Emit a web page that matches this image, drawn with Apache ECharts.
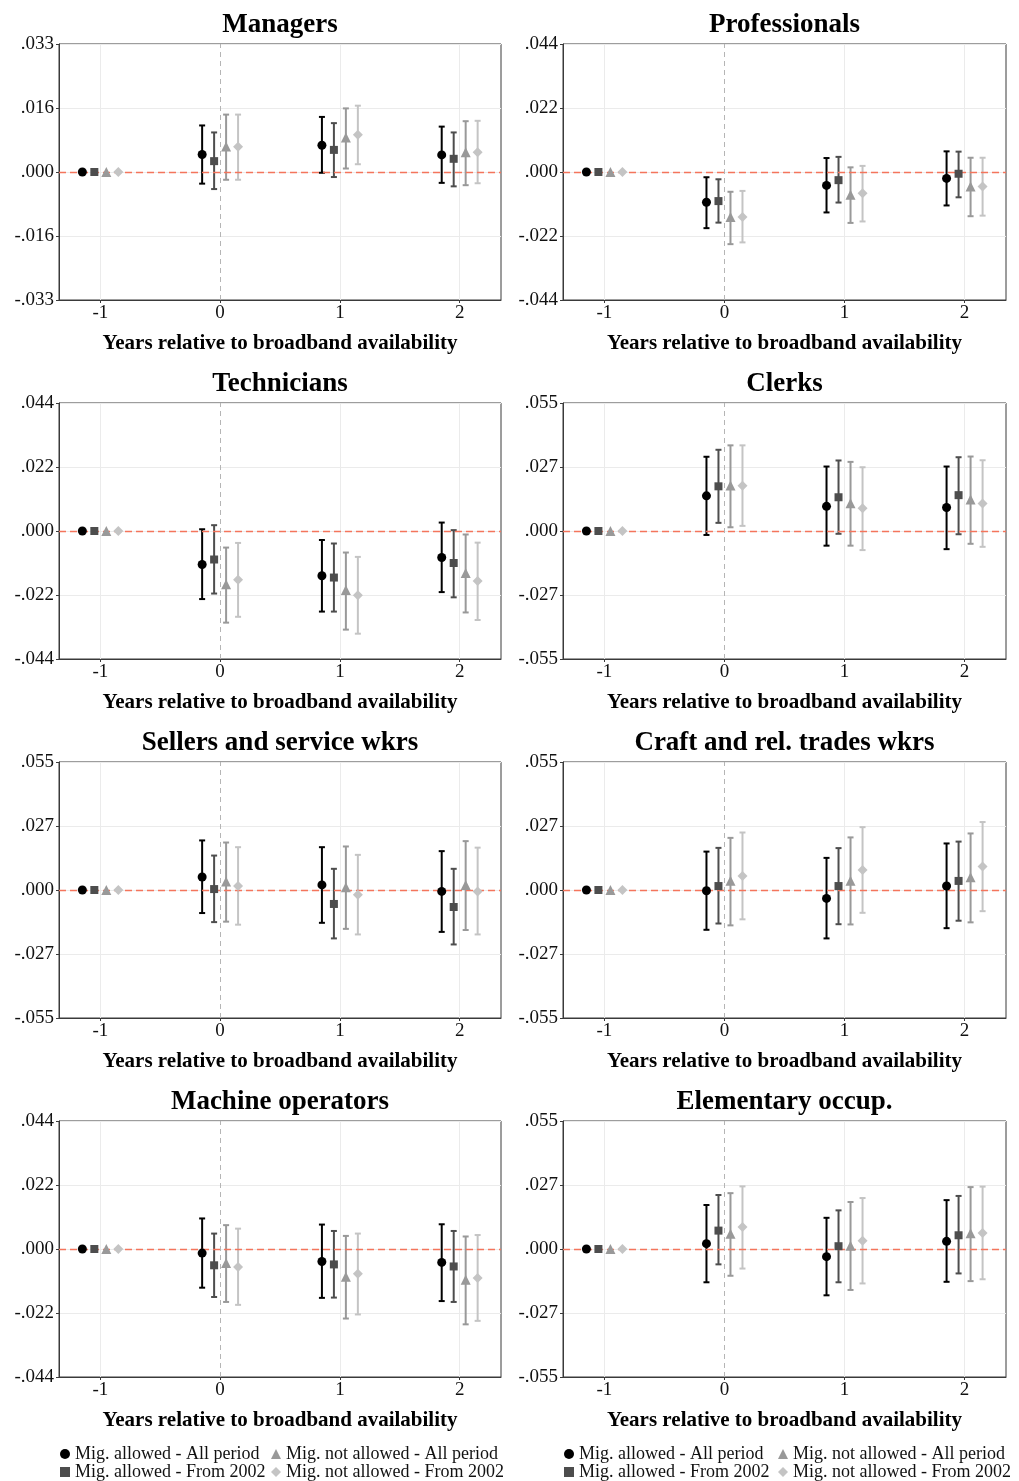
<!DOCTYPE html>
<html><head><meta charset="utf-8">
<script src="https://cdn.jsdelivr.net/npm/echarts@6/dist/echarts.min.js"></script>
<style>html,body{margin:0;padding:0;background:#fff}#c{width:1019px;height:1481px}</style>
</head><body><div id="c"></div><script>
// ---------- DATA ----------
const years = [-1, 0, 1, 2];
const seriesNames = ['Mig. allowed - All period', 'Mig. allowed - From 2002', 'Mig. not allowed - All period', 'Mig. not allowed - From 2002'];
const panelTitles = ['Managers', 'Professionals', 'Technicians', 'Clerks', 'Sellers and service wkrs', 'Craft and rel. trades wkrs', 'Machine operators', 'Elementary occup.'];
const yMax = [0.033, 0.044, 0.044, 0.055, 0.055, 0.055, 0.044, 0.055];
const yTicks033 = ['-.033', '-.016', '.000', '.016', '.033'];
const yTicks044 = ['-.044', '-.022', '.000', '.022', '.044'];
const yTicks055 = ['-.055', '-.027', '.000', '.027', '.055'];
const xTickLabels = ['-1', '0', '1', '2'];
const xAxisTitle = 'Years relative to broadband availability';

// rows: series (4), columns: years -1,0,1,2
const managersEst = [[0, .0045, .0069, .0044], [0, .0028, .0057, .0034], [0, .0066, .0089, .0051], [0, .0065, .0096, .0051]];
const managersLo  = [[0, -.0030, -.0002, -.0028], [0, -.0044, -.0013, -.0037], [0, -.0020, .0009, -.0034], [0, -.0020, .0020, -.0029]];
const managersHi  = [[0, .0120, .0142, .0117], [0, .0102, .0126, .0102], [0, .0148, .0164, .0131], [0, .0148, .0171, .0132]];

const professionalsEst = [[0, -.0104, -.0046, -.0022], [0, -.0100, -.0028, -.0006], [0, -.0155, -.0078, -.0050], [0, -.0155, -.0073, -.0050]];
const professionalsLo  = [[0, -.0193, -.0139, -.0115], [0, -.0174, -.0105, -.0087], [0, -.0248, -.0175, -.0152], [0, -.0242, -.0170, -.0150]];
const professionalsHi  = [[0, -.0018, .0048, .0071], [0, -.0025, .0052, .0070], [0, -.0068, .0016, .0049], [0, -.0065, .0021, .0049]];

const techniciansEst = [[0, -.0115, -.0154, -.0091], [0, -.0098, -.0160, -.0110], [0, -.0183, -.0203, -.0144], [0, -.0168, -.0221, -.0172]];
const techniciansLo  = [[0, -.0234, -.0277, -.0210], [0, -.0215, -.0277, -.0228], [0, -.0315, -.0339, -.0280], [0, -.0295, -.0353, -.0306]];
const techniciansHi  = [[0, .0006, -.0031, .0029], [0, .0020, -.0043, .0003], [0, -.0057, -.0074, -.0012], [0, -.0041, -.0089, -.0040]];

const clerksEst = [[0, .0151, .0106, .0101], [0, .0192, .0145, .0154], [0, .0195, .0119, .0135], [0, .0194, .0098, .0118]];
const clerksLo  = [[0, -.0017, -.0063, -.0078], [0, .0035, -.0012, -.0014], [0, .0016, -.0063, -.0055], [0, .0022, -.0082, -.0068]];
const clerksHi  = [[0, .0319, .0277, .0277], [0, .0349, .0303, .0317], [0, .0368, .0297, .0320], [0, .0368, .0274, .0304]];

const sellersEst = [[0, .0056, .0022, -.0006], [0, .0004, -.0060, -.0073], [0, .0037, .0012, .0022], [0, .0017, -.0020, -.0006]];
const sellersLo  = [[0, -.0099, -.0141, -.0180], [0, -.0138, -.0208, -.0234], [0, -.0136, -.0167, -.0172], [0, -.0149, -.0191, -.0191]];
const sellersHi  = [[0, .0213, .0184, .0167], [0, .0148, .0091, .0091], [0, .0204, .0187, .0210], [0, .0184, .0151, .0182]];

const craftEst = [[0, -.0003, -.0036, .0017], [0, .0017, .0017, .0039], [0, .0040, .0040, .0055], [0, .0060, .0086, .0101]];
const craftLo  = [[0, -.0171, -.0208, -.0164], [0, -.0144, -.0147, -.0132], [0, -.0152, -.0148, -.0139], [0, -.0126, -.0098, -.0091]];
const craftHi  = [[0, .0165, .0138, .0200], [0, .0181, .0180, .0208], [0, .0224, .0226, .0243], [0, .0247, .0270, .0292]];

const machineEst = [[0, -.0014, -.0043, -.0046], [0, -.0056, -.0053, -.0060], [0, -.0048, -.0095, -.0106], [0, -.0062, -.0085, -.0100]];
const machineLo  = [[0, -.0133, -.0168, -.0179], [0, -.0165, -.0167, -.0182], [0, -.0182, -.0239, -.0259], [0, -.0192, -.0225, -.0247]];
const machineHi  = [[0, .0105, .0084, .0085], [0, .0053, .0062, .0062], [0, .0082, .0045, .0043], [0, .0070, .0053, .0048]];

const elementaryEst = [[0, .0023, -.0033, .0033], [0, .0079, .0012, .0059], [0, .0066, .0014, .0068], [0, .0094, .0035, .0069]];
const elementaryLo  = [[0, -.0143, -.0199, -.0141], [0, -.0066, -.0143, -.0105], [0, -.0115, -.0176, -.0138], [0, -.0084, -.0148, -.0130]];
const elementaryHi  = [[0, .0189, .0134, .0210], [0, .0232, .0166, .0228], [0, .0240, .0202, .0266], [0, .0269, .0219, .0268]];

// ---------- STYLE / LAYOUT ----------
const panels = [
  {est: managersEst, lo: managersLo, hi: managersHi, ticks: yTicks033},
  {est: professionalsEst, lo: professionalsLo, hi: professionalsHi, ticks: yTicks044},
  {est: techniciansEst, lo: techniciansLo, hi: techniciansHi, ticks: yTicks044},
  {est: clerksEst, lo: clerksLo, hi: clerksHi, ticks: yTicks055},
  {est: sellersEst, lo: sellersLo, hi: sellersHi, ticks: yTicks055},
  {est: craftEst, lo: craftLo, hi: craftHi, ticks: yTicks055},
  {est: machineEst, lo: machineLo, hi: machineHi, ticks: yTicks044},
  {est: elementaryEst, lo: elementaryLo, hi: elementaryHi, ticks: yTicks055}
];
const dodge = [-0.15, -0.05, 0.05, 0.15];
const colors = ['#000000', '#4d4d4d', '#999999', '#c4c4c4'];
const symbols = ['circle', 'rect', 'triangle', 'diamond'];
const symSizes = [9, 8, 10, 10];
const FONT = '"Liberation Serif", "Times New Roman", serif';
const colLeft = [59, 563];
const colWidth = [442, 443];
const rowTop = [44, 403, 762, 1121];
const gridH = 256;

const grids = [], xAxes = [], yAxes = [], titles = [], series = [];
panels.forEach((p, i) => {
  const col = i % 2, row = Math.floor(i / 2);
  const M = yMax[i];
  grids.push({left: colLeft[col], top: rowTop[row], width: colWidth[col], height: gridH,
    show: true, borderColor: '#3a3a3a', borderWidth: 1, backgroundColor: '#fff'});
  titles.push({text: panelTitles[i], left: colLeft[col] + colWidth[col] / 2, top: rowTop[row] - 32,
    textAlign: 'center', padding: 0,
    textStyle: {fontFamily: FONT, fontWeight: 'bold', fontSize: 27, color: '#000'}});
  xAxes.push({gridIndex: i, type: 'value', min: -1.345, max: 2.345,
    name: xAxisTitle, nameLocation: 'middle', nameGap: 33,
    nameTextStyle: {fontFamily: FONT, fontWeight: 'bold', fontSize: 21, color: '#000'},
    axisLine: {show: true, onZero: false, lineStyle: {color: '#3a3a3a'}},
    axisTick: {show: true, length: 3, customValues: years, lineStyle: {color: '#3a3a3a'}},
    axisLabel: {customValues: years, margin: 4, fontFamily: FONT, fontSize: 19, color: '#111',
      formatter: v => xTickLabels[years.indexOf(Math.round(v))]},
    splitLine: {show: false}});
  yAxes.push({gridIndex: i, type: 'value', min: -M, max: M, interval: M / 2,
    axisLine: {show: true, onZero: false, lineStyle: {color: '#3a3a3a'}},
    axisTick: {show: true, length: 3, lineStyle: {color: '#3a3a3a'}},
    axisLabel: {margin: 5, fontFamily: FONT, fontSize: 19, color: '#111',
      formatter: v => p.ticks[Math.round((v + M) / (M / 2))]},
    splitLine: {show: true, lineStyle: {color: '#ebebeb', width: 1}}});

  // gridlines + reference lines
  series.push({type: 'line', xAxisIndex: i, yAxisIndex: i, data: [], silent: true, z: 1,
    markLine: {silent: true, symbol: 'none', label: {show: false}, animation: false,
      data: [
        {xAxis: -1, lineStyle: {color: '#ebebeb', width: 1, type: 'solid'}},
        {xAxis: 1, lineStyle: {color: '#ebebeb', width: 1, type: 'solid'}},
        {xAxis: 2, lineStyle: {color: '#ebebeb', width: 1, type: 'solid'}},
        {xAxis: 0, lineStyle: {color: '#b5b5b5', width: 1, type: [5, 4]}},
        {yAxis: 0, lineStyle: {color: '#f4755c', width: 1.4, type: [7, 4]}}
      ]}});

  for (let s = 0; s < 4; s++) {
    const barData = years.map((y, k) => [y + dodge[s], p.lo[s][k], p.hi[s][k]]);
    const c = colors[s];
    series.push({type: 'custom', name: seriesNames[s], xAxisIndex: i, yAxisIndex: i, z: 3,
      silent: true, encode: {x: 0, y: [1, 2]}, data: barData, itemStyle: {color: c},
      renderItem: (params, api) => {
        const x = api.value(0), lo = api.value(1), hi = api.value(2);
        if (lo === hi) return null;
        const a = api.coord([x, hi]), b = api.coord([x, lo]);
        const w = 3;
        const st = {stroke: c, lineWidth: 2};
        return {type: 'group', children: [
          {type: 'line', shape: {x1: a[0], y1: a[1], x2: b[0], y2: b[1]}, style: st},
          {type: 'line', shape: {x1: a[0] - w, y1: a[1], x2: a[0] + w, y2: a[1]}, style: st},
          {type: 'line', shape: {x1: b[0] - w, y1: b[1], x2: b[0] + w, y2: b[1]}, style: st}
        ]};
      }});
    series.push({type: 'scatter', name: seriesNames[s], xAxisIndex: i, yAxisIndex: i, z: 5,
      symbol: symbols[s], symbolSize: symSizes[s], itemStyle: {color: c, opacity: 1},
      data: years.map((y, k) => [y + dodge[s], p.est[s][k]])});
  }
});

const legendBase = {orient: 'vertical', itemGap: 0, itemWidth: 10, itemHeight: 10, padding: 0,
  textStyle: {fontFamily: FONT, fontSize: 18, color: '#111', lineHeight: 18}, selectedMode: false};
const legends = [];
[[60, 271], [564, 778]].forEach(([l1, l2]) => {
  legends.push(Object.assign({}, legendBase, {left: l1, top: 1445, data: [
    {name: seriesNames[0], icon: 'circle', itemStyle: {color: colors[0]}},
    {name: seriesNames[1], icon: 'rect', itemStyle: {color: colors[1]}}]}));
  legends.push(Object.assign({}, legendBase, {left: l2, top: 1445, data: [
    {name: seriesNames[2], icon: 'triangle', itemStyle: {color: colors[2]}},
    {name: seriesNames[3], icon: 'diamond', itemStyle: {color: colors[3]}}]}));
});

const chart = echarts.init(document.getElementById('c'), null, {renderer: 'canvas'});
chart.setOption({animation: false, backgroundColor: '#fff', title: titles, grid: grids,
  xAxis: xAxes, yAxis: yAxes, legend: legends, series: series});
</script></body></html>
